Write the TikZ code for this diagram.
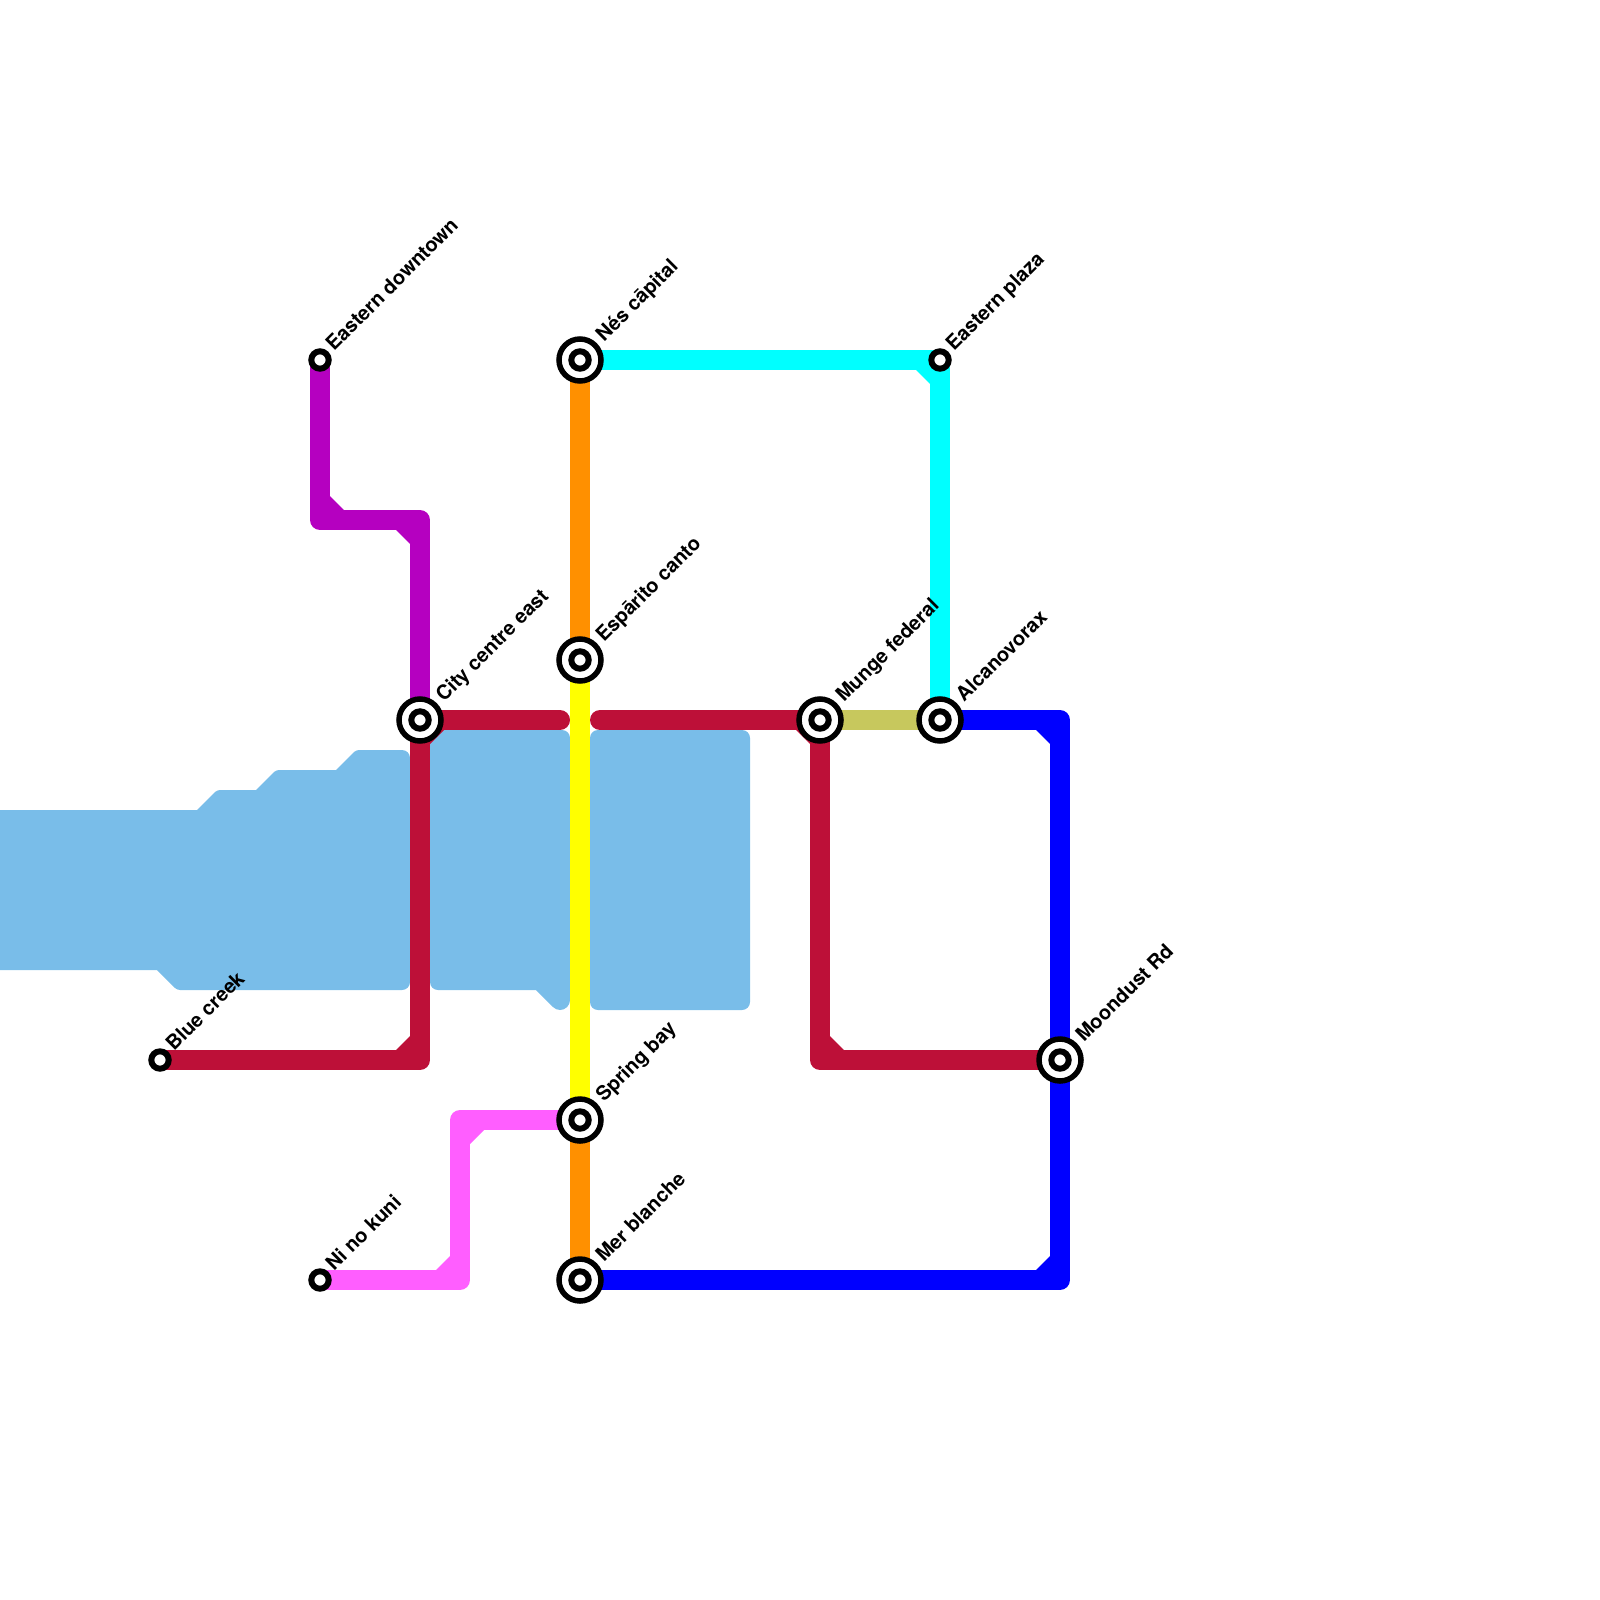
\documentclass[tikz,border=0pt]{standalone}
\usepackage{fontspec}
\setmainfont{TeX Gyre Heros}
\usetikzlibrary{backgrounds}
\definecolor{water}{HTML}{79BDE9}
\definecolor{lred}{HTML}{BD1038}
\definecolor{lpurple}{HTML}{B500C0}
\definecolor{lpink}{HTML}{FF5EFF}
\definecolor{lorange}{HTML}{FF9000}
\definecolor{lolive}{HTML}{C7C85D}
\definecolor{lcyan}{RGB}{0,255,255}
\definecolor{lyellow}{RGB}{255,255,0}
\definecolor{lblue}{RGB}{0,0,255}
\tikzset{
  x=1pt,y=-1pt,
  ichg/.style={circle,draw=black,fill=white,line width=5.5pt,minimum size=42pt,inner sep=0pt,outer sep=0pt,
    path picture={\draw[black,line width=6pt] (path picture bounding box.center) circle (8.7pt);}},
  term/.style={circle,draw=black,fill=white,line width=6pt,minimum size=17.4pt,inner sep=0pt,outer sep=0pt},
  stn/.style={rotate=45,anchor=base west,inner sep=0pt,font=\bfseries\fontsize{20}{20}\selectfont,text=black},
  lineseg/.style={line width=20pt,line join=round,line cap=butt},
  lineend/.style={line width=20pt,line join=round,line cap=round},
  wedge/.style={fill=#1,draw=none},
}
\begin{document}
\begin{tikzpicture}
\useasboundingbox (0,0) rectangle (1600,1600);
% stations
\node[term] (eastdown) at (320,360) {};
\node[term] (blue) at (160,1060) {};
\node[term] (nino) at (320,1280) {};
\node[term] (eplaza) at (940,360) {};
\node[ichg] (city) at (420,720) {};
\node[ichg] (nes) at (580,360) {};
\node[ichg] (esp) at (580,660) {};
\node[ichg] (munge) at (820,720) {};
\node[ichg] (alca) at (940,720) {};
\node[ichg] (moon) at (1060,1060) {};
\node[ichg] (spring) at (580,1120) {};
\node[ichg] (mer) at (580,1280) {};
% labels
\node[stn] (l1) at (334,352) {Eastern downtown};
\node[stn] (l2) at (174,1052) {Blue creek};
\node[stn] (l3) at (334,1272) {Ni no kuni};
\node[stn] (l4) at (954,352) {Eastern plaza};
\node[stn] (l5) at (444,703) {City centre east};
\node[stn] (l6) at (604,343) {Nés cāpital};
\node[stn] (l7) at (604,643) {Espārito canto};
\node[stn] (l8) at (844,703) {Munge federal};
\node[stn] (l9) at (964,703) {Alcanovorax};
\node[stn] (l10) at (1084,1043) {Moondust Rd};
\node[stn] (l11) at (604,1103) {Spring bay};
\node[stn] (l12) at (604,1263) {Mer blanche};
% corners
\coordinate (p1) at (320,520);
\coordinate (p2) at (420,520);
\coordinate (r1) at (420,1060);
\coordinate (r2) at (420,720);
\coordinate (r3) at (560,720);
\coordinate (r4) at (600,720);
\coordinate (r5) at (820,1060);
\coordinate (k1) at (460,1280);
\coordinate (k2) at (460,1120);
\coordinate (b1) at (1060,1280);
\coordinate (b2) at (1060,720);
\coordinate (c1) at (940,360);
\begin{pgfonlayer}{background}
% water
\fill[water] (-5,810) -- (197,810) [rounded corners=3pt] -- (217,790) [sharp corners] -- (256,790)
  [rounded corners=3pt] -- (276,770) [sharp corners] -- (336,770) [rounded corners=3pt] -- (356,750)
  [rounded corners=8pt] -- (410,750) -- (410,990) [rounded corners=3pt] -- (177,990) [sharp corners] -- (157,970) -- (-5,970) -- cycle;
\fill[water] (438,730) -- (562,730) .. controls (566.4,730) and (570,733.6) .. (570,738)
  -- (570,1000) .. controls (570,1005.5) and (565.5,1010) .. (560,1010)
  .. controls (557.2,1010) and (554.8,1008.8) .. (553,1007) -- (536,990) -- (438,990)
  .. controls (433.6,990) and (430,986.4) .. (430,982) -- (430,738)
  .. controls (430,733.6) and (433.6,730) .. (438,730) -- cycle;
\fill[water,rounded corners=8pt] (590,730) rectangle (750,1010);
% lines
\draw[lineseg,lpurple] (eastdown.center) -- (p1) -- (p2) -- (city.center);
\fill[wedge=lpurple] (330,510) -- (330,496) -- (344,510) -- cycle;
\fill[wedge=lpurple] (410,530) -- (396,530) -- (410,544) -- cycle;
\draw[lineend,lred] (blue.center) -- (r1) -- (r2) -- (r3);
\fill[wedge=lred] (410,1050) -- (396,1050) -- (410,1036) -- cycle;
\fill[wedge=lred] (430,730) -- (444,730) -- (430,744) -- cycle;
\draw[lineend,lred] (r4) -- (munge.center) -- (r5) -- (moon.center);
\fill[wedge=lred] (810,730) -- (796,730) -- (810,744) -- cycle;
\fill[wedge=lred] (830,1050) -- (830,1036) -- (844,1050) -- cycle;
\draw[lineseg,lorange] (nes.center) -- (esp.center);
\draw[lineseg,lyellow] (esp.center) -- (spring.center);
\draw[lineseg,lorange] (spring.center) -- (mer.center);
\draw[lineseg,lpink] (nino.center) -- (k1) -- (k2) -- (spring.center);
\fill[wedge=lpink] (450,1270) -- (436,1270) -- (450,1256) -- cycle;
\fill[wedge=lpink] (470,1130) -- (484,1130) -- (470,1144) -- cycle;
\draw[lineseg,lblue] (mer.center) -- (b1) -- (b2) -- (alca.center);
\fill[wedge=lblue] (1050,1270) -- (1036,1270) -- (1050,1256) -- cycle;
\fill[wedge=lblue] (1050,730) -- (1036,730) -- (1050,744) -- cycle;
\draw[lineseg,lcyan] (nes.center) -- (c1) -- (alca.center);
\fill[wedge=lcyan] (930,370) -- (916,370) -- (930,384) -- cycle;
\draw[lineseg,lolive] (munge.center) -- (alca.center);
\end{pgfonlayer}
\end{tikzpicture}
\end{document}
